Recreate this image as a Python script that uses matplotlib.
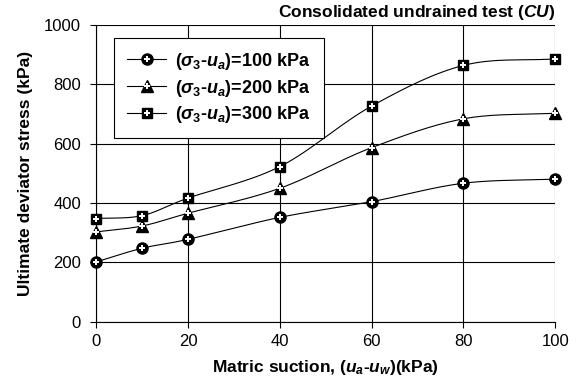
import numpy as np
import matplotlib
matplotlib.use("Agg")
import matplotlib.pyplot as plt
from matplotlib.legend_handler import HandlerTuple

plt.rcParams['font.family'] = ['Liberation Sans', 'DejaVu Sans']
plt.rcParams['mathtext.fontset'] = 'custom'
plt.rcParams['mathtext.rm'] = 'Liberation Sans:bold'
plt.rcParams['mathtext.it'] = 'Liberation Sans:bold:italic'
plt.rcParams['mathtext.bf'] = 'Liberation Sans:bold'

# data
suction = [0, 10, 20, 40, 60, 80, 100]
q_100 = [202, 248, 278, 352, 405, 467, 481]
q_200 = [303, 323, 366, 450, 587, 684, 703]
q_300 = [348, 358, 417, 523, 727, 864, 886]
labels = [r'($\sigma_3$-$u_a$)=100 kPa', r'($\sigma_3$-$u_a$)=200 kPa',
          r'($\sigma_3$-$u_a$)=300 kPa']


def smooth(x, y, n=30):
    # catmull-rom curve through the points, like the smoothed line option in excel
    x = np.asarray(x, float)
    y = np.asarray(y, float)
    px = np.concatenate([[2 * x[0] - x[1]], x, [2 * x[-1] - x[-2]]])
    py = np.concatenate([[2 * y[0] - y[1]], y, [2 * y[-1] - y[-2]]])
    xs, ys = [], []
    t = np.linspace(0, 1, n)
    for i in range(1, len(px) - 2):
        for p, out in ((px, xs), (py, ys)):
            p0, p1, p2, p3 = p[i - 1], p[i], p[i + 1], p[i + 2]
            out.append(0.5 * ((2 * p1) + (-p0 + p2) * t
                              + (2 * p0 - 5 * p1 + 4 * p2 - p3) * t ** 2
                              + (-p0 + 3 * p1 - 3 * p2 + p3) * t ** 3))
    return np.concatenate(xs), np.concatenate(ys)


fig = plt.figure(figsize=(5.76, 3.85), dpi=100)
ax = fig.add_axes([0.167, 0.164, 0.797, 0.771])

series = [(q_100, 'o', 8), (q_200, '^', 9), (q_300, 's', 7.5)]
handles = []
for (vals, mk, ms), lab in zip(series, labels):
    sx, sy = smooth(suction, vals)
    ax.plot(sx, sy, color='black', lw=0.8, zorder=3)
    ax.plot(suction, vals, ls='none', marker=mk, ms=ms, mfc='black', mec='black',
            zorder=4, clip_on=False)
    ax.plot(suction, vals, ls='none', marker='+', ms=5, mew=1.4, color='white',
            zorder=5, clip_on=False)
    h1, = ax.plot([], [], color='black', lw=0.8, marker=mk, ms=ms, mfc='black', mec='black')
    h2, = ax.plot([], [], ls='none', marker='+', ms=5, mew=1.4, color='white')
    handles.append((h1, h2))

ax.set_xlim(0, 100)
ax.set_ylim(0, 1000)
ax.set_xticks([0, 20, 40, 60, 80, 100])
ax.set_yticks([0, 200, 400, 600, 800, 1000])
ax.grid(True, color='black', lw=0.8)
ax.tick_params(direction='out', length=4, width=0.8, labelsize=12)
ax.tick_params(axis='y', pad=7)
ax.tick_params(axis='x', pad=5)
for s in ax.spines.values():
    s.set_linewidth(0.8)
ax.spines['top'].set_visible(False)
ax.spines['right'].set_visible(False)

ax.set_xlabel(r'Matric suction, ($u_a$-$u_w$)(kPa)', fontsize=12.5, fontweight='bold', labelpad=6)
ax.set_ylabel('Ultimate deviator stress (kPa)', fontsize=12.5, fontweight='bold', labelpad=8)
ax.text(1.0, 1.01, r'Consolidated undrained test ($CU$)', transform=ax.transAxes,
        ha='right', va='bottom', fontsize=12.5, fontweight='bold')

leg = ax.legend(handles, labels, loc='upper left', bbox_to_anchor=(0.039, 0.956),
                handler_map={tuple: HandlerTuple(ndivide=1, pad=0)},
                prop={'weight': 'bold', 'size': 13}, fancybox=False, framealpha=1,
                edgecolor='black', handlelength=2.2, handletextpad=0.5,
                borderpad=0.7, labelspacing=0.32, borderaxespad=0)
leg.get_frame().set_linewidth(0.8)
leg.set_zorder(6)

fig.savefig('out.png', dpi=100)
